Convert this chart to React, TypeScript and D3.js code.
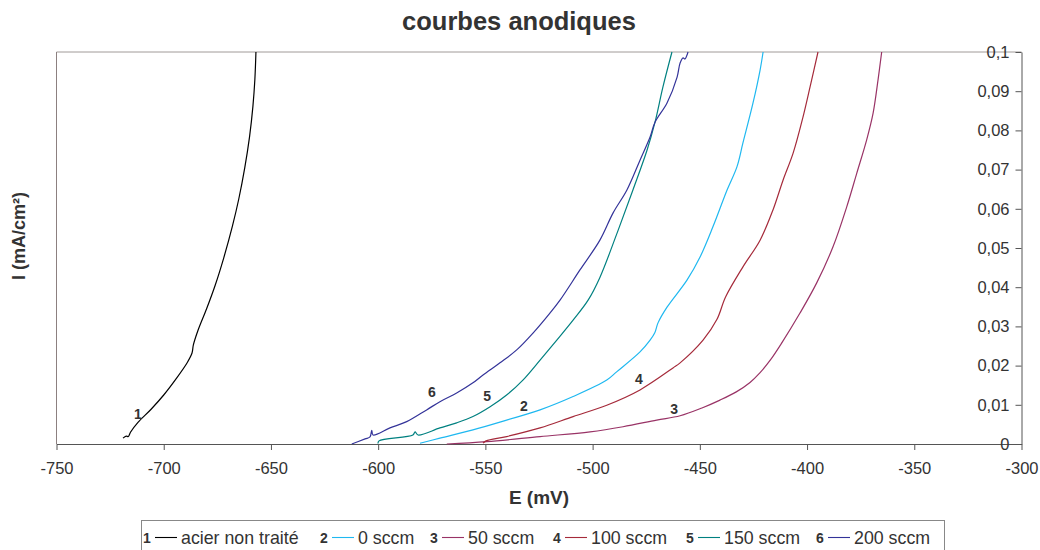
import React, { useEffect, useRef } from 'react';
import * as d3 from 'd3';

// E (mV), I (mA/cm²)
const xTicks = d3.range(-750, -299, 50);
const yTicks = d3.range(0, 11).map(i => i / 100);

const acierNonTraite = [
  [-719, 0.0015], [-717.5, 0.002], [-716.5, 0.0019], [-715.5, 0.003], [-712, 0.0055],
  [-706, 0.0088], [-700, 0.0125], [-694, 0.0168], [-689, 0.0208], [-686.8, 0.0232],
  [-686.2, 0.0252], [-684, 0.029], [-680, 0.0345], [-676, 0.0405], [-672, 0.0475],
  [-668, 0.0555], [-665, 0.0625], [-662.2, 0.0705], [-660, 0.0783], [-658.4, 0.0862],
  [-657.5, 0.093], [-657, 0.1]
];
const sccm0 = [
  [-580.5, 0.0002], [-571.2, 0.0015], [-555.8, 0.0036], [-540.1, 0.0061], [-524.5, 0.0087],
  [-509.1, 0.0121], [-493.4, 0.0163], [-488.8, 0.0184], [-477.9, 0.0235], [-473.2, 0.0265],
  [-471, 0.0284], [-469.5, 0.0309], [-465.3, 0.0349], [-456, 0.0418], [-449.9, 0.0477],
  [-443.9, 0.0554], [-437.3, 0.0648], [-432.7, 0.0707], [-429.9, 0.0768], [-425.2, 0.087],
  [-421.9, 0.0954], [-420.5, 0.1]
];
const sccm50 = [
  [-568, 0], [-549.4, 0.0006], [-524.5, 0.0019], [-501.2, 0.0031], [-485.8, 0.0044],
  [-470.1, 0.0061], [-459.2, 0.0072], [-449, 0.0092], [-440.6, 0.0112], [-433, 0.0133],
  [-426.6, 0.0157], [-421.9, 0.0182], [-417, 0.0215], [-412, 0.0256], [-403.3, 0.0334],
  [-395.5, 0.0411], [-387.9, 0.0503], [-381.5, 0.0605], [-376.8, 0.0691], [-372.2, 0.0776],
  [-369.2, 0.0844], [-366.9, 0.0929], [-365.2, 0.1]
];
const sccm100 = [
  [-551.1, 0.0002], [-549.7, 0.0008], [-540.1, 0.0019], [-524.5, 0.0041], [-509.1, 0.007],
  [-493.4, 0.0099], [-477.9, 0.0138], [-462.5, 0.0194], [-459.2, 0.0207], [-448.5, 0.0265],
  [-442, 0.0318], [-438, 0.0375], [-429.9, 0.0452], [-421.9, 0.052], [-415.9, 0.0597],
  [-411.2, 0.0673], [-406.5, 0.0742], [-401.9, 0.0834], [-398.6, 0.0911], [-394.9, 0.1]
];
const sccm150 = [
  [-600.1, 0.0001], [-599.6, 0.0008], [-583.8, 0.0023], [-582.8, 0.0031], [-581.4, 0.0023],
  [-571.2, 0.0041], [-563.4, 0.0054], [-555.8, 0.007], [-547.8, 0.0095], [-540.1, 0.0125],
  [-532.5, 0.0163], [-524.5, 0.0214], [-516.7, 0.0265], [-509.1, 0.0316], [-502.1, 0.0367],
  [-496.6, 0.0425], [-488.6, 0.0538], [-481.2, 0.0648], [-474.6, 0.075], [-470.9, 0.0821],
  [-467.2, 0.0911], [-463, 0.1]
];
const sccm200 = [
  [-612.3, 0], [-606.1, 0.0013], [-603.8, 0.0018], [-603, 0.0035], [-602.4, 0.0023],
  [-594.5, 0.0041], [-586.7, 0.0057], [-577.4, 0.0087], [-571.2, 0.0108], [-563.4, 0.013],
  [-555.8, 0.0156], [-551.1, 0.0176], [-543.2, 0.0207], [-535.4, 0.024], [-527.8, 0.0283],
  [-519.9, 0.0334], [-515.2, 0.0367], [-505.9, 0.0444], [-496.6, 0.052], [-490.5, 0.0589],
  [-484, 0.0648], [-477.9, 0.0724], [-473.2, 0.0783], [-470.9, 0.0821], [-465.3, 0.087],
  [-460.6, 0.0936], [-459.2, 0.0972], [-457.8, 0.0985], [-457, 0.0982], [-455.5, 0.1]
];

const seriesNums = ['1', '2', '3', '4', '5', '6'];
const seriesNames = ['acier non traité', '0 sccm', '50 sccm', '100 sccm', '150 sccm', '200 sccm'];
const seriesColors = ['#000000', '#1fb8f0', '#993366', '#a52a3a', '#008080', '#333399'];
const seriesData = [acierNonTraite, sccm0, sccm50, sccm100, sccm150, sccm200];

// curve number tags, placed in data coordinates
const tagE = [-712, -532, -462, -478.4, -549.2, -574.9];
const tagI = [0.0076, 0.0097, 0.0089, 0.0166, 0.0122, 0.0133];

const legendX = [143, 320, 430, 553, 686, 816];

const font = 'Arial, "Liberation Sans", sans-serif';

const App = () => {
  const ref = useRef(null);

  useEffect(() => {
    draw();
  }, []);

  const draw = () => {
    const svg = d3.select(ref.current);
    svg.selectAll('*').remove();

    const x = d3.scaleLinear().domain([-750, -300]).range([56.5, 1021.5]);
    const y = d3.scaleLinear().domain([0, 0.1]).range([444, 52]);

    svg.append('rect').attr('width', 1040).attr('height', 550).attr('fill', '#fff');

    // plot area borders
    svg.append('line')
      .attr('x1', x(-750)).attr('x2', x(-300)).attr('y1', y(0.1)).attr('y2', y(0.1))
      .attr('stroke', '#a09a98').attr('stroke-width', 1);
    svg.append('line')
      .attr('x1', x(-750)).attr('x2', x(-750)).attr('y1', y(0.1)).attr('y2', y(0))
      .attr('stroke', '#8c8080').attr('stroke-width', 1);

    // x axis
    const xAxis = svg.append('g')
      .attr('transform', `translate(0,${y(0)})`)
      .call(d3.axisBottom(x).tickValues(xTicks).tickSize(6).tickSizeOuter(0).tickPadding(12)
        .tickFormat(d => String(d)));
    xAxis.select('.domain').attr('stroke', '#555');
    xAxis.selectAll('line').attr('stroke', '#555');
    xAxis.selectAll('text').attr('font-size', 16.5).attr('font-family', font).attr('fill', '#333');

    // y axis on the right
    const yAxis = svg.append('g')
      .attr('transform', `translate(${x(-300)},0)`)
      .call(d3.axisLeft(y).tickValues(yTicks).tickSize(6).tickSizeOuter(0).tickPadding(6)
        .tickFormat(d => d3.format('~g')(d).replace('.', ',')));
    yAxis.select('.domain').attr('stroke', '#555');
    yAxis.selectAll('line').attr('stroke', '#555');
    yAxis.selectAll('text').attr('font-size', 16.5).attr('font-family', font).attr('fill', '#333');

    // curves
    const line = d3.line().x(d => x(d[0])).y(d => y(d[1])).curve(d3.curveCatmullRom.alpha(0.5));
    seriesData.forEach((pts, i) => {
      svg.append('path')
        .attr('d', line(pts))
        .attr('fill', 'none')
        .attr('stroke', seriesColors[i])
        .attr('stroke-width', 1.2)
        .attr('stroke-linejoin', 'round');
    });

    // curve numbers
    seriesNums.forEach((n, i) => {
      svg.append('text')
        .attr('x', x(tagE[i])).attr('y', y(tagI[i]))
        .attr('text-anchor', 'middle').attr('dominant-baseline', 'central')
        .attr('font-family', font).attr('font-weight', 'bold').attr('font-size', 14)
        .attr('fill', '#333')
        .text(n);
    });

    // titles
    svg.append('text')
      .attr('x', 519).attr('y', 30).attr('text-anchor', 'middle')
      .attr('font-family', font).attr('font-weight', 'bold').attr('font-size', 25.5)
      .attr('fill', '#333').text('courbes anodiques');
    svg.append('text')
      .attr('x', 539).attr('y', 504).attr('text-anchor', 'middle')
      .attr('font-family', font).attr('font-weight', 'bold').attr('font-size', 19)
      .attr('fill', '#333').text('E (mV)');
    svg.append('text')
      .attr('transform', 'translate(25,236) rotate(-90)').attr('text-anchor', 'middle')
      .attr('font-family', font).attr('font-weight', 'bold').attr('font-size', 18)
      .attr('fill', '#333').text('I (mA/cm²)');

    // legend
    svg.append('rect')
      .attr('x', 141.5).attr('y', 520.5).attr('width', 803).attr('height', 40)
      .attr('fill', 'none').attr('stroke', '#888');
    seriesNames.forEach((name, i) => {
      const lx = legendX[i];
      svg.append('text')
        .attr('x', lx).attr('y', 543)
        .attr('font-family', font).attr('font-weight', 'bold').attr('font-size', 14)
        .attr('fill', '#333').text(seriesNums[i]);
      svg.append('line')
        .attr('x1', lx + 12).attr('x2', lx + 34).attr('y1', 537.5).attr('y2', 537.5)
        .attr('stroke', seriesColors[i]).attr('stroke-width', 1.1);
      svg.append('text')
        .attr('x', lx + 38).attr('y', 544)
        .attr('font-family', font).attr('font-size', 17.8)
        .attr('fill', '#333').text(name);
    });
  };

  return <svg ref={ref} width="1040" height="550" style={{ position: 'absolute', left: 0, top: 0 }}></svg>;
};

export default App;
